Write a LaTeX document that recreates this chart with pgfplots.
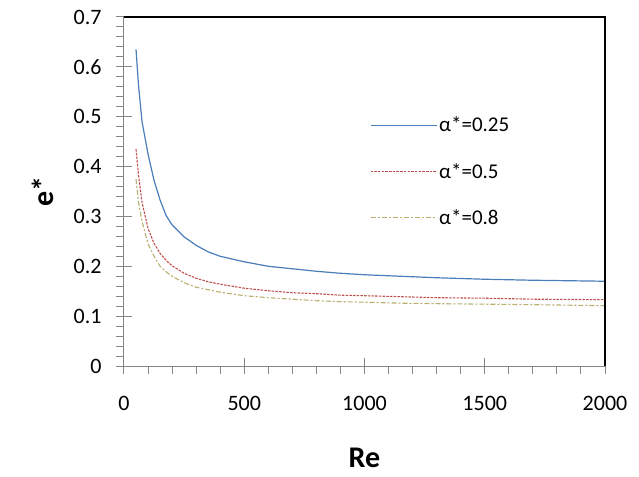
\documentclass[border=0pt]{standalone}
\usepackage{fontspec}
\setmainfont{Carlito}
\usepackage{pgfplots}
\pgfplotsset{compat=1.18}
\definecolor{serA}{RGB}{74,126,187}
\definecolor{serB}{RGB}{192,80,77}
\definecolor{serC}{RGB}{185,175,110}
\definecolor{axgray}{RGB}{134,134,134}

\begin{document}
\begin{tikzpicture}
  \begin{axis}[
      name=ax, scale only axis, width=481pt, height=349pt,
      xmin=0, xmax=2000, ymin=0, ymax=0.7,
      xtick={0,500,...,2000}, ytick={0,0.1,...,0.7},
      minor x tick num=4, minor y tick num=4,
      /pgf/number format/.cd, fixed, precision=1, set thousands separator={},
      assume math mode=true, /pgfplots/.cd,
      yticklabel style={xshift=-11pt},
      xticklabel style={yshift=-19pt},
      tick label style={font=\fontsize{22}{26}\selectfont},
      tick align=outside, major tick length=8pt, minor tick length=8pt,
      minor tick style={/pgfplots/tick align=inside},
      extra x ticks={0,500,...,2000}, extra x tick labels={},
      extra y ticks={0,0.1,...,0.7}, extra y tick labels={},
      extra tick style={tick align=inside},
      tick style={axgray, line width=1pt},
      axis line style={axgray, line width=1pt},
      xtick pos=bottom, ytick pos=left,
      xlabel={\textbf{Re}}, ylabel={\textbf{e*}},
      label style={font=\fontsize{30}{34}\selectfont},
      xlabel style={at={(0.5,0)}, anchor=center, yshift=-92pt},
      ylabel style={at={(0,0.5)}, anchor=center, yshift=81pt},
      clip=false,
      legend cell align=left,
      legend style={draw=none, fill=none, at={(0.511,0.72)}, anchor=north west,
        font=\fontsize{21}{25}\selectfont, row sep=26pt, inner sep=0pt},
      legend image code/.code={\draw[#1] (0pt,0pt) -- (66pt,0pt);},
    ]
    \addplot[serA, line width=1.2pt] coordinates {
      (50,0.635) (60,0.565) (75,0.49) (100,0.425) (125,0.372) (150,0.333)
      (175,0.302) (200,0.283) (250,0.259) (300,0.242) (350,0.229) (400,0.220)
      (500,0.209) (600,0.200) (700,0.195) (800,0.190) (900,0.186) (1000,0.183)
      (1150,0.180) (1300,0.177) (1500,0.174) (1700,0.172) (2000,0.170)};
    \addlegendentry{α*=0.25}
    \addplot[serB, line width=1.1pt, dash pattern=on 2.5pt off 1.2pt] coordinates {
      (50,0.435) (60,0.385) (75,0.328) (100,0.276) (125,0.246) (150,0.226)
      (175,0.212) (200,0.201) (250,0.186) (300,0.176) (350,0.169) (400,0.164)
      (500,0.156) (600,0.151) (700,0.147) (800,0.145) (900,0.142) (1000,0.141)
      (1150,0.139) (1300,0.137) (1500,0.136) (1700,0.134) (2000,0.133)};
    \addlegendentry{α*=0.5}
    \addplot[serC, line width=1.1pt, dash pattern=on 5pt off 2pt on 2pt off 2pt] coordinates {
      (50,0.375) (60,0.33) (75,0.29) (100,0.245) (125,0.220) (150,0.200)
      (175,0.189) (200,0.180) (250,0.167) (300,0.158) (350,0.153) (400,0.148)
      (500,0.141) (600,0.137) (700,0.134) (800,0.131) (900,0.129) (1000,0.128)
      (1150,0.126) (1300,0.125) (1500,0.124) (1700,0.123) (2000,0.121)};
    \addlegendentry{α*=0.8}
    \draw[black, line width=1.3pt] (rel axis cs:0,1) -- (rel axis cs:1,1) -- (rel axis cs:1,0);
  \end{axis}
  \path (ax.south west) ++(-124pt,-110pt) rectangle ++(639pt,476pt);
\end{tikzpicture}
\end{document}
